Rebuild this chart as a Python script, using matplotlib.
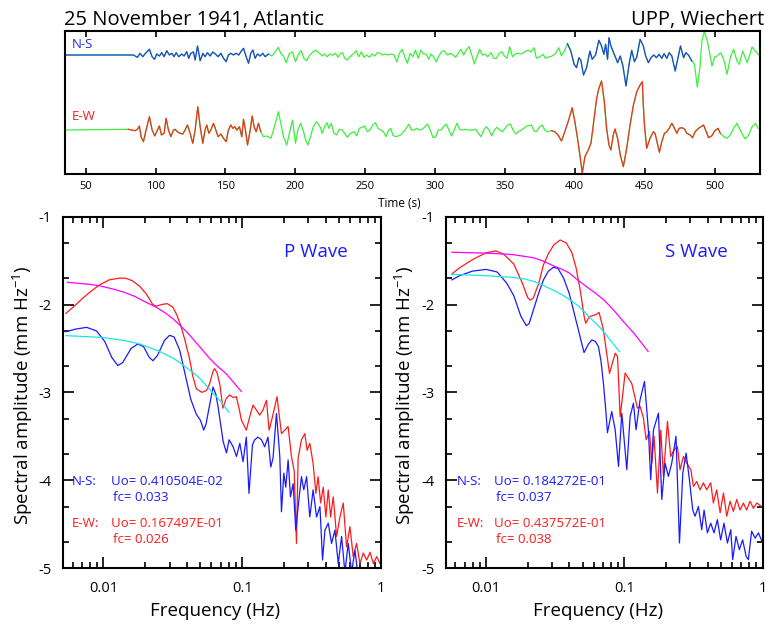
import numpy as np
import matplotlib
matplotlib.use('Agg')
import matplotlib.pyplot as plt
from matplotlib.ticker import FixedLocator, FixedFormatter, LogLocator, NullFormatter

plt.rcParams['font.family'] = ['Open Sans', 'DejaVu Sans']
plt.rcParams['axes.unicode_minus'] = False
plt.rcParams['mathtext.fontset'] = 'custom'
plt.rcParams['mathtext.rm'] = 'Open Sans'
plt.rcParams['mathtext.it'] = 'Open Sans'

# ---- seismograms: (time s, amplitude) ----
ns_trace = [(35.5, 0), (84.1, 0), (87.0, -2.3), (88.9, 1.7), (90.8, -1.7), (93.2, 2.3), (95.6, 5.7),
            (97.5, -1.7), (99.2, -4.3), (100.8, 1), (102.7, -1), (104.4, 2.3), (106.1, -1.7), (108.0, 4.3),
            (109.9, 0), (111.6, 1.7), (113.2, -1.7), (114.7, 2.3), (116.6, -1.7), (118.7, 1), (120.4, -1),
            (122.3, 3.3), (123.7, -3.3), (125.2, 1.7), (127.1, 3), (128.3, -5), (130.0, 9), (131.9, -5.7),
            (133.8, 1.7), (135.4, -1.7), (137.1, 2.3), (139.0, -1), (140.9, 3), (142.8, 1), (144.7, -1.7),
            (146.7, 1.7), (148.6, -3.3), (150.5, -6.7), (152.1, 0), (153.8, 1.7), (155.7, 0), (157.6, 1.7),
            (159.5, 0), (161.0, 3.3), (162.9, 6.7), (164.8, -1.7), (166.5, -8.3), (168.1, 1.7), (169.6, 5),
            (171.2, -3.3), (172.9, 1), (174.8, -1), (176.7, 1.7), (178.4, -1.7), (180.8, 1), (183.2, -1),
            (185.6, 3.3), (187.9, 7.7), (189.6, 1.7), (191.5, -1), (193.4, -7.7), (195.8, 1.7), (198.0, 3),
            (200.1, -6.7), (202.5, 1.7), (204.2, 4.3), (206.1, -3.3), (208.0, -5.7), (210.4, 0), (212.8, 3.3),
            (214.4, 5), (216.8, 2.3), (219.2, -1), (220.9, 1), (222.8, -1.7), (224.7, 1), (226.6, -0.3),
            (228.6, 1.7), (230.5, -2.3), (232.4, 1.7), (233.8, 2.3), (235.3, -3.3), (237.2, -5), (239.6, -1),
            (241.5, 1), (243.4, 4.3), (245.5, -1.7), (247.2, 3.3), (249.1, -2.3), (251.0, 0), (253.0, -2.3),
            (254.9, 1), (256.8, -1), (258.7, 2.3), (260.6, 1.7), (262.5, 0), (264.4, 1), (266.4, 0),
            (268.3, 1), (270.7, 0), (272.6, -7), (274.5, 1.7), (276.4, 5.7), (278.3, -1.7), (280.2, -8.3),
            (282.1, 1.7), (284.1, -1.7), (286.0, 5), (287.9, -3.3), (289.8, 5), (291.7, 1), (293.6, 1),
            (295.5, -4.3), (297.0, 1), (298.9, -1.7), (300.8, -7), (302.7, -1), (304.6, 3.3), (306.5, 4.3),
            (308.9, 0), (310.9, 1.7), (312.8, 0), (314.7, -2.3), (316.6, 1.7), (318.5, 5.7), (320.4, 0),
            (322.3, 5), (324.3, 8.3), (326.2, 0), (328.1, -9), (330.0, -1), (331.9, 5.7), (333.8, 0),
            (335.7, 1), (337.6, -1.7), (340.0, 2.3), (342.0, -3.3), (343.9, -3.3), (345.8, 1.7), (347.7, 3.3),
            (349.6, -1), (351.5, -3.3), (353.4, 8.3), (355.4, -1.7), (357.3, 1), (359.2, 1.7), (361.6, 1),
            (364.0, 3), (366.4, 5), (368.5, 3), (370.8, 7.3), (372.5, -3.3), (374.9, -2), (377.3, 0.7),
            (378.9, -3.3), (381.3, -2), (383.7, -1), (386.1, 1.3), (388.5, 7.3), (390.4, -1), (392.3, 3.3),
            (394.7, 11.3), (397.1, 4), (399.5, -9.3), (401.2, -12.7), (402.9, -2.7), (404.3, -5.3),
            (406.2, -20), (408.4, -12.7), (410.8, 4), (412.4, -4.3), (414.8, 0), (417.2, 14.7), (419.1, 9),
            (420.8, 0.7), (422.0, 10.7), (423.4, -4.3), (424.4, 17.3), (425.8, 9), (428.2, 0.7),
            (430.6, -7.7), (432.5, -1), (434.4, -11), (436.6, -31), (438.8, -9.3), (440.7, 4.7),
            (442.6, -6.7), (444.3, -2), (446.7, 15.7), (449.0, 9), (450.7, -1), (452.6, -7.7), (454.5, -2.7),
            (456.5, 0), (458.4, -2.7), (460.3, 0.7), (462.2, -3.3), (463.9, 1.3), (465.8, -3.3), (467.5, 2.3),
            (469.4, -1), (471.8, -16), (473.7, -3.3), (475.6, 9), (477.8, -2.7), (479.4, 2.3), (481.3, 0),
            (483.7, -6), (485.6, -9.3), (487.6, -32), (489.5, -12.7), (490.9, 14), (492.6, 23.3),
            (494.5, 15.7), (496.2, 4), (498.1, -11), (500.0, -2), (501.9, -1), (504.3, 2.3), (506.5, -4.3),
            (508.9, -19.3), (511.2, -2.7), (513.6, 5.7), (516.0, -6), (517.7, -9.3), (520.1, 4), (521.5, -1),
            (523.2, -7.7), (524.9, -1), (526.8, 8), (529.2, 4), (531.6, 0)]

ew_trace = [(35.5, 0), (80.5, 0.7), (82.9, 0), (85.3, -0.7), (87.0, 0.7), (88.4, 4), (89.6, -6.7),
            (91.3, -11.7), (93.2, 0), (95.6, 13.3), (97.5, 0), (99.4, -6), (101.3, 0), (102.7, 4), (104.2, -5),
            (106.1, -3.3), (107.5, 11.7), (109.2, 0), (110.9, -6.7), (112.8, 0), (114.0, 0.7), (115.6, -1.7),
            (117.5, -3.3), (119.5, -4), (121.1, 0), (122.8, 5), (124.7, -3.3), (126.6, -13.3), (128.3, 0),
            (130.2, 23.3), (131.9, 3.3), (133.8, -13.3), (135.4, 0), (136.6, 5), (138.1, -3.3), (139.5, 0),
            (141.4, 6.7), (143.1, 0), (144.7, -6.7), (146.7, -4), (148.6, -8.3), (150.5, -11.7), (152.1, 0),
            (153.8, 5), (155.3, 1.7), (156.7, 3.3), (158.1, 0), (160.0, 3.3), (161.7, -6.7), (162.9, 10.7),
            (164.3, 0), (165.8, -15), (167.7, 0), (169.1, 14), (170.5, 3.3), (172.0, -1.7), (173.6, 6.7),
            (175.3, -1.7), (177.2, -6.7), (179.1, -6), (180.8, -6.7), (182.5, -8.3), (184.4, 0), (186.3, 10),
            (187.9, 18.3), (189.6, 6.7), (191.5, -6.7), (193.9, -15), (196.3, 0), (198.0, 10),
            (200.1, -13.3), (201.8, 0), (203.7, 6.7), (205.6, 0), (207.3, -10), (208.9, -15), (210.9, -6.7),
            (212.8, 3.3), (215.2, 8.3), (217.6, 3.3), (219.2, -3.3), (220.9, 3.3), (222.8, 7.3), (224.0, 1.7),
            (225.7, 6.7), (227.6, -3.3), (229.5, -5), (231.4, 0.7), (233.6, 0), (235.3, -3.3), (237.2, -7.3),
            (239.6, -3.3), (242.0, -1.7), (243.9, -6), (245.8, 1.7), (247.7, 2.7), (249.6, 4), (251.5, -1.7),
            (253.4, 0), (255.4, 5), (257.3, 7.3), (259.2, 1.7), (261.1, 0), (263.0, -1.7), (264.9, -6.7),
            (266.8, 0), (268.3, 1.7), (269.7, -5), (271.6, -6.7), (273.5, -6), (275.4, -5), (277.4, -1.7),
            (279.3, 1.7), (281.2, 5.7), (283.1, 0), (285.0, 0), (286.9, 1.7), (288.8, 0), (290.8, 0.7),
            (292.7, 3.3), (294.6, 6), (296.5, 0), (298.4, -7.3), (300.3, -7.3), (302.2, 0), (304.2, 0),
            (306.1, 3.3), (308.0, 6), (309.9, 0), (311.8, -6), (313.7, 0), (315.6, 6.7), (317.6, 0.7),
            (319.5, 0), (321.4, 0.7), (323.3, 0), (327.1, 0), (329.0, 0.7), (331.0, -3.3), (332.9, -6.7),
            (334.8, 0), (336.7, 3.3), (338.6, 0), (340.5, -6), (342.4, 0), (344.3, 2.7), (346.3, 0),
            (348.2, -1.7), (350.1, 1.7), (352.0, 5), (353.9, 6), (355.8, 0), (357.7, -4), (359.7, -1.7),
            (361.6, 0), (363.5, 1.7), (365.4, 4), (368.9, 5), (370.8, -1), (372.5, -1.7), (374.9, 3.3),
            (376.6, 5), (378.5, 0), (380.4, -1.7), (383.3, -0.7), (385.6, -1.7), (388.0, -5), (390.4, -11),
            (392.8, -1.7), (395.2, 8.3), (398.1, 22.3), (400.0, 8.3), (401.9, -8.3), (403.6, -25),
            (405.3, -43.3), (407.2, -26.7), (409.6, -20), (411.5, -13.3), (413.2, 5), (415.6, 31.7),
            (417.2, 41.7), (419.1, 49), (421.1, 28.3), (422.7, 1.7), (424.4, -15), (425.8, -20), (427.5, -5),
            (428.7, 1), (430.6, -8.3), (432.5, -25), (434.7, -36.7), (437.1, -18.3), (439.5, 5), (441.9, 25),
            (444.3, 38.3), (446.7, 45), (448.3, 48.3), (448.8, 30), (449.8, 5), (451.4, -18.3), (453.8, -8.3),
            (456.2, -1.7), (457.4, -3.3), (459.3, -15), (460.5, -22.3), (462.2, -11.7), (464.1, -3.3),
            (465.8, -1.7), (467.5, 1.7), (469.4, 6.7), (471.3, 1.7), (473.0, -3.3), (474.6, 1.7), (476.6, 2.3),
            (478.5, 1), (480.1, -3.3), (482.5, -5), (484.2, -7.7), (486.1, -1.7), (488.5, 1.7), (492.1, 5),
            (493.8, -1), (495.7, -7.7), (498.1, -5.7), (500.0, -1), (502.4, 1.7), (504.1, -3.3), (506.5, -6.7),
            (508.9, -8.3), (511.2, -5), (513.6, 1.7), (516.0, 6.7), (517.7, 1.7), (520.1, -5), (522.0, -9),
            (524.4, -5), (526.8, 3.3), (529.2, 6.7), (531.1, 1.7)]

ns_windows = [(35, 181), (393, 484)]
ew_windows = [(80, 176), (383, 505)]

# ---- spectra: (log10 frequency, log10 amplitude) ----
p_ns = [(-2.27, -2.31), (-2.20, -2.28), (-2.12, -2.26), (-2.05, -2.30), (-1.99, -2.42), (-1.94, -2.60),
        (-1.896, -2.695), (-1.86, -2.66), (-1.80, -2.50), (-1.752, -2.45), (-1.71, -2.48), (-1.67, -2.60),
        (-1.643, -2.64), (-1.61, -2.58), (-1.56, -2.41), (-1.523, -2.35), (-1.49, -2.37), (-1.45, -2.52),
        (-1.41, -2.80), (-1.37, -3.08), (-1.33, -3.25), (-1.30, -3.32), (-1.277, -3.43), (-1.26, -3.36),
        (-1.246, -3.24), (-1.21, -2.94), (-1.19, -3.02), (-1.174, -3.16), (-1.137, -3.56), (-1.113, -3.69),
        (-1.094, -3.54), (-1.065, -3.62), (-1.041, -3.73), (-1.017, -3.58), (-0.994, -3.79), (-0.970, -3.51),
        (-0.951, -4.15), (-0.926, -3.60), (-0.910, -3.54), (-0.886, -3.51), (-0.861, -3.54), (-0.838, -3.62),
        (-0.814, -3.51), (-0.794, -3.85), (-0.778, -3.75), (-0.753, -3.24), (-0.729, -3.73), (-0.717, -4.36),
        (-0.70, -3.92), (-0.686, -4.08), (-0.669, -3.77), (-0.652, -4.19), (-0.633, -4.04), (-0.614, -4.57),
        (-0.594, -4.26), (-0.573, -3.96), (-0.556, -4.11), (-0.536, -3.96), (-0.513, -4.42), (-0.489, -4.11),
        (-0.464, -4.42), (-0.440, -4.30), (-0.421, -4.91), (-0.404, -4.57), (-0.380, -4.49), (-0.356, -4.72),
        (-0.332, -4.57), (-0.308, -4.95), (-0.284, -4.64), (-0.260, -5.05), (-0.236, -4.72), (-0.212, -5.05),
        (-0.188, -4.80), (-0.164, -5.10)]
p_ew = [(-2.27, -2.10), (-2.21, -2.02), (-2.15, -1.93), (-2.09, -1.85), (-2.03, -1.78), (-1.96, -1.72),
        (-1.884, -1.70), (-1.84, -1.70), (-1.79, -1.73), (-1.74, -1.79), (-1.69, -1.88), (-1.644, -2.00),
        (-1.62, -2.02), (-1.58, -2.00), (-1.54, -1.99), (-1.50, -2.03), (-1.47, -2.12), (-1.44, -2.25),
        (-1.41, -2.42), (-1.38, -2.61), (-1.355, -2.82), (-1.33, -2.96), (-1.29, -3.00), (-1.258, -2.98),
        (-1.234, -2.90), (-1.21, -2.76), (-1.199, -2.73), (-1.18, -2.78), (-1.16, -2.92), (-1.139, -3.18),
        (-1.115, -3.07), (-1.09, -3.03), (-1.065, -3.06), (-1.042, -3.05), (-1.02, -3.20), (-1.006, -3.315),
        (-0.970, -3.43), (-0.946, -3.28), (-0.922, -3.145), (-0.898, -3.20), (-0.874, -3.26), (-0.850, -3.20),
        (-0.825, -3.09), (-0.806, -3.43), (-0.782, -3.28), (-0.749, -3.05), (-0.717, -3.47), (-0.693, -3.43),
        (-0.669, -3.39), (-0.645, -3.73), (-0.625, -3.90), (-0.609, -4.72), (-0.597, -3.75), (-0.573, -3.54),
        (-0.549, -3.47), (-0.532, -3.66), (-0.513, -3.58), (-0.489, -3.81), (-0.469, -4.15), (-0.453, -3.96),
        (-0.435, -4.26), (-0.416, -4.08), (-0.397, -4.42), (-0.380, -4.11), (-0.363, -4.42), (-0.344, -4.19),
        (-0.320, -4.64), (-0.296, -4.42), (-0.272, -4.26), (-0.248, -4.76), (-0.224, -4.53), (-0.200, -4.87),
        (-0.176, -4.72), (-0.152, -4.95), (-0.128, -4.83), (-0.103, -4.91), (-0.079, -4.82), (-0.055, -4.95),
        (-0.031, -4.87), (-0.007, -4.95)]
p_ns_fit = [(-2.27, -2.354), (-2.0, -2.376), (-1.85, -2.41), (-1.74, -2.448), (-1.67, -2.49), (-1.60, -2.53),
            (-1.55, -2.57), (-1.499, -2.61), (-1.45, -2.66), (-1.40, -2.72), (-1.35, -2.78), (-1.306, -2.84),
            (-1.26, -2.92), (-1.21, -3.01), (-1.15, -3.11), (-1.096, -3.226)]
p_ew_fit = [(-2.258, -1.747), (-2.10, -1.77), (-2.03, -1.786), (-1.94, -1.82), (-1.85, -1.86),
            (-1.77, -1.91), (-1.692, -1.975), (-1.62, -2.03), (-1.55, -2.10), (-1.50, -2.16), (-1.451, -2.233),
            (-1.40, -2.31), (-1.35, -2.40), (-1.29, -2.51), (-1.235, -2.613), (-1.18, -2.70), (-1.12, -2.78),
            (-1.06, -2.89), (-1.006, -2.99)]

s_ns = [(-2.248, -1.72), (-2.19, -1.67), (-2.10, -1.62), (-2.00, -1.60), (-1.92, -1.63), (-1.85, -1.76),
        (-1.80, -1.90), (-1.75, -2.13), (-1.71, -2.24), (-1.69, -2.22), (-1.66, -2.07), (-1.62, -1.87),
        (-1.586, -1.72), (-1.55, -1.62), (-1.513, -1.576), (-1.48, -1.59), (-1.44, -1.70), (-1.40, -1.87),
        (-1.36, -2.12), (-1.333, -2.289), (-1.30, -2.50), (-1.292, -2.547), (-1.26, -2.45), (-1.236, -2.403),
        (-1.21, -2.42), (-1.188, -2.479), (-1.17, -2.64), (-1.152, -2.896), (-1.135, -3.2), (-1.123, -3.46),
        (-1.092, -3.218), (-1.067, -3.426), (-1.043, -3.844), (-1.019, -3.237), (-0.983, -3.88),
        (-0.959, -3.275), (-0.935, -3.123), (-0.916, -3.426), (-0.887, -3.086), (-0.855, -2.877), (-0.827, -3.426),
        (-0.810, -3.995), (-0.790, -3.426), (-0.754, -3.237), (-0.730, -4.22), (-0.706, -3.806), (-0.682, -3.957),
        (-0.658, -3.806), (-0.627, -3.50), (-0.602, -4.716), (-0.578, -3.92), (-0.554, -3.692), (-0.530, -3.995),
        (-0.506, -4.34), (-0.489, -4.41), (-0.465, -4.30), (-0.441, -4.564), (-0.424, -4.34), (-0.400, -4.60),
        (-0.376, -4.49), (-0.352, -4.60), (-0.328, -4.45), (-0.304, -4.68), (-0.280, -4.49), (-0.255, -4.716),
        (-0.231, -4.564), (-0.217, -4.905), (-0.193, -4.64), (-0.169, -4.79), (-0.145, -4.68), (-0.120, -4.867),
        (-0.104, -4.905), (-0.080, -4.58), (-0.055, -4.66), (-0.031, -4.60), (0.0, -4.716)]
s_ew = [(-2.248, -1.652), (-2.19, -1.58), (-2.10, -1.49), (-2.00, -1.41), (-1.93, -1.39), (-1.87, -1.43),
        (-1.80, -1.54), (-1.74, -1.75), (-1.70, -1.92), (-1.682, -1.95), (-1.66, -1.93), (-1.62, -1.76),
        (-1.586, -1.55), (-1.55, -1.42), (-1.51, -1.32), (-1.465, -1.265), (-1.42, -1.30), (-1.38, -1.41),
        (-1.35, -1.58), (-1.32, -1.834), (-1.29, -2.15), (-1.28, -2.213), (-1.253, -2.137), (-1.212, -2.118),
        (-1.183, -2.09), (-1.152, -2.29), (-1.108, -2.784), (-1.067, -2.555), (-1.05, -2.59), (-1.031, -3.28),
        (-0.995, -2.78), (-0.947, -2.90), (-0.906, -3.18), (-0.887, -3.16), (-0.863, -3.29), (-0.843, -3.54),
        (-0.819, -3.445), (-0.802, -3.806), (-0.786, -3.50), (-0.761, -4.147), (-0.737, -3.43), (-0.718, -3.957),
        (-0.689, -3.33), (-0.665, -3.73), (-0.641, -3.654), (-0.617, -3.616), (-0.598, -3.88), (-0.573, -3.73),
        (-0.549, -3.806), (-0.520, -3.88), (-0.501, -4.07), (-0.477, -4.015), (-0.453, -4.11), (-0.429, -4.03),
        (-0.405, -4.11), (-0.376, -4.03), (-0.357, -4.26), (-0.333, -4.11), (-0.308, -4.37), (-0.284, -4.147),
        (-0.260, -4.41), (-0.236, -4.24), (-0.212, -4.355), (-0.188, -4.22), (-0.164, -4.34), (-0.140, -4.26),
        (-0.116, -4.34), (-0.092, -4.24), (-0.067, -4.32), (-0.043, -4.26), (-0.007, -4.30)]
s_ns_fit = [(-2.248, -1.656), (-2.0, -1.672), (-1.816, -1.69), (-1.72, -1.71), (-1.65, -1.74), (-1.577, -1.79),
            (-1.51, -1.84), (-1.45, -1.89), (-1.39, -1.95), (-1.338, -2.01), (-1.29, -2.08), (-1.25, -2.15),
            (-1.21, -2.21), (-1.171, -2.27), (-1.135, -2.34), (-1.10, -2.41), (-1.07, -2.47), (-1.036, -2.535)]
s_ew_fit = [(-2.248, -1.405), (-2.0, -1.415), (-1.816, -1.43), (-1.73, -1.45), (-1.65, -1.47), (-1.58, -1.51),
            (-1.513, -1.56), (-1.45, -1.60), (-1.40, -1.64), (-1.338, -1.72), (-1.272, -1.80), (-1.21, -1.87),
            (-1.147, -1.95), (-1.08, -2.06), (-1.004, -2.2), (-0.93, -2.33), (-0.86, -2.47), (-0.829, -2.535)]

p_labels = ['Uo= 0.410504E-02', 'fc= 0.033', 'Uo= 0.167497E-01', 'fc= 0.026']
s_labels = ['Uo= 0.184272E-01', 'fc= 0.037', 'Uo= 0.437572E-01', 'fc= 0.038']

BLUE = '#1a1aff'
RED = '#ff1a1a'
GREEN = '#3cf03c'

fig = plt.figure(figsize=(7.66, 6.25), dpi=100)

# ---- top: seismograms ----
ax0 = fig.add_axes([0.0849, 0.7216, 0.9073, 0.2288])
ns_base, ew_base = 119, 44
for trace, base, col, wins in [(ns_trace, ns_base, '#2244dd', ns_windows),
                               (ew_trace, ew_base, '#ee3322', ew_windows)]:
    t = np.array([p[0] for p in trace])
    a = np.array([p[1] for p in trace])
    ax0.plot(t, base + a, color=GREEN, lw=0.9)
    for lo, hi in wins:
        m = (t >= lo) & (t <= hi)
        ax0.plot(t[m], base + a[m], color=col, lw=0.9)
ax0.set_xlim(35.2, 532.5)
ax0.set_ylim(0, 143)
ax0.set_yticks([])
ax0.set_xticks(np.arange(50, 501, 50))
ax0.tick_params(axis='x', direction='in', top=True, length=4, width=1.2, labelsize=8, pad=5)
for s in ax0.spines.values():
    s.set_linewidth(1.5)
ax0.text(40, 129, 'N-S', color='#2030dd', fontsize=9.5, va='center')
ax0.text(40, 57, 'E-W', color='#ee2222', fontsize=9.5, va='center')
fig.text(0.521, 0.675, 'Time (s)', ha='center', va='center', fontsize=8.5)
fig.text(64 / 766, 1 - 24.5 / 625, '25 November 1941, Atlantic', fontsize=14.5, va='baseline')
fig.text(764 / 766, 1 - 24.5 / 625, 'UPP, Wiechert', fontsize=14.5, va='baseline', ha='right')


def spectrum_panel(ax, ns, ew, ns_fit, ew_fit, title, labels, tx, lx):
    for data, col in [(ew, RED), (ns, BLUE), (ew_fit, 'magenta'), (ns_fit, '#19e6e6')]:
        f = 10 ** np.array([p[0] for p in data])
        v = np.array([p[1] for p in data])
        ax.plot(f, v, color=col, lw=0.9)
    ax.set_xscale('log')
    ax.set_xlim(0.0051, 1)
    ax.set_ylim(-5, -1)
    ax.xaxis.set_major_locator(FixedLocator([0.01, 0.1, 1]))
    ax.xaxis.set_major_formatter(FixedFormatter(['0.01', '0.1', '1']))
    ax.xaxis.set_minor_locator(LogLocator(base=10, subs=np.arange(2, 10)))
    ax.xaxis.set_minor_formatter(NullFormatter())
    ax.yaxis.set_major_locator(FixedLocator([-5, -4, -3, -2, -1]))
    ax.yaxis.set_major_formatter(FixedFormatter(['-5', '-4', '-3', '-2', '-1']))
    ax.yaxis.set_minor_locator(FixedLocator([k + np.log10(m) for k in range(-5, -1) for m in (2, 5)]))
    ax.tick_params(which='both', direction='in', top=True, right=True, width=1.2)
    ax.tick_params(which='major', length=8, labelsize=10.5)
    ax.tick_params(which='minor', length=4.5)
    ax.tick_params(axis='x', which='major', pad=9)
    ax.tick_params(axis='y', which='major', pad=8)
    for s in ax.spines.values():
        s.set_linewidth(1.5)
    ax.text(tx, -1.40, title, color=BLUE, fontsize=13.5, ha='center', va='center')
    ax.text(lx, -4.01, 'N-S:', color=BLUE, fontsize=9.5, va='center')
    ax.text(0.0114, -4.01, labels[0], color=BLUE, fontsize=9.5, va='center')
    ax.text(0.0118, -4.20, labels[1], color=BLUE, fontsize=9.5, va='center')
    ax.text(lx, -4.49, 'E-W:', color=RED, fontsize=9.5, va='center')
    ax.text(0.0114, -4.49, labels[2], color=RED, fontsize=9.5, va='center')
    ax.text(0.0118, -4.68, labels[3], color=RED, fontsize=9.5, va='center')


ax1 = fig.add_axes([0.0819, 0.0912, 0.4155, 0.5621])
spectrum_panel(ax1, p_ns, p_ew, p_ns_fit, p_ew_fit, 'P Wave', p_labels, 0.34, 0.00597)
ax2 = fig.add_axes([0.5819, 0.0912, 0.4138, 0.5621])
spectrum_panel(ax2, s_ns, s_ew, s_ns_fit, s_ew_fit, 'S Wave', s_labels, 0.331, 0.0061)

ylab = r'Spectral amplitude (mm Hz$^{-1}$)'
fig.text(0.030, 0.367, ylab, rotation=90, ha='center', va='center', fontsize=13.5)
fig.text(0.529, 0.367, ylab, rotation=90, ha='center', va='center', fontsize=13.5)
fig.text(0.281, 0.0224, 'Frequency (Hz)', ha='center', va='center', fontsize=13.5)
fig.text(0.781, 0.0224, 'Frequency (Hz)', ha='center', va='center', fontsize=13.5)

fig.savefig('out.png', dpi=100)
